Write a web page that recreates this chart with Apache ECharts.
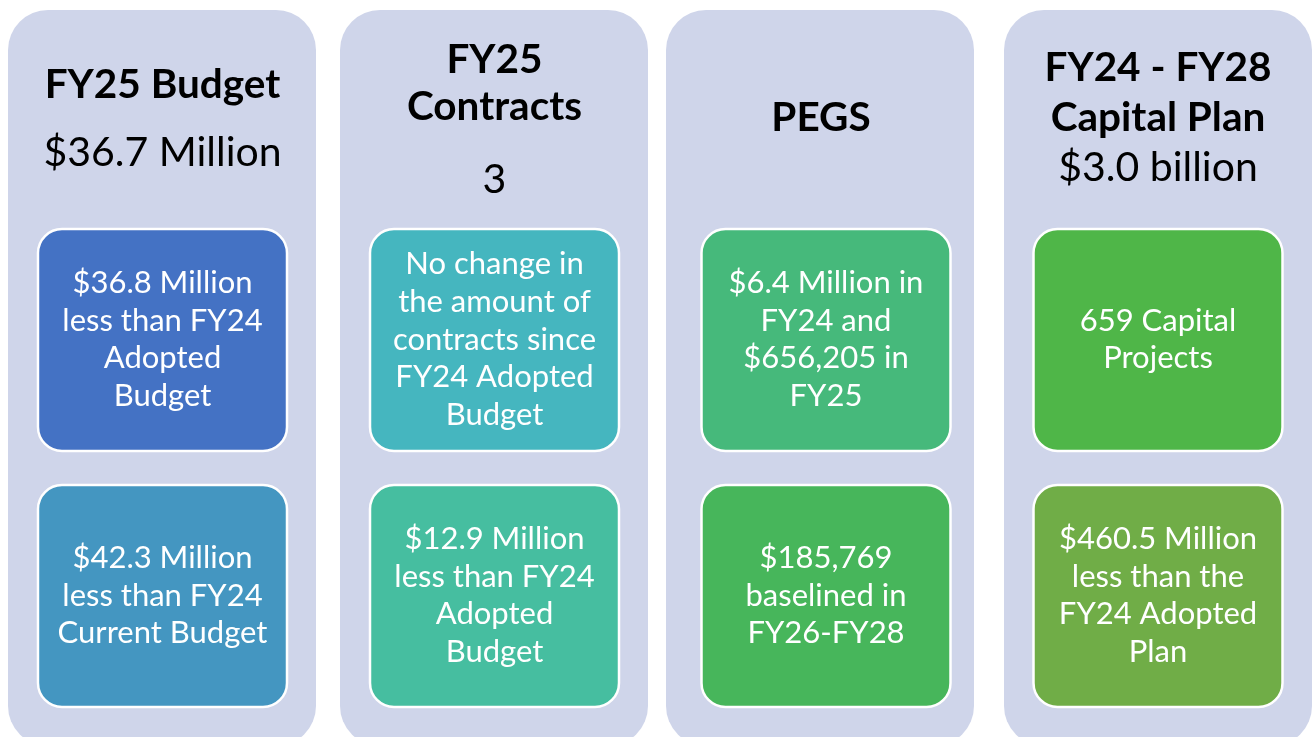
<!DOCTYPE html>
<html>
<head>
<meta charset="utf-8">
<script src="https://cdn.jsdelivr.net/npm/echarts@6/dist/echarts.min.js"></script>
<style>
html,body{margin:0;padding:0;background:#ffffff;}
#chart{width:1312px;height:737px;}
</style>
</head>
<body>
<div id="chart"></div>
<script>
// ---- data ----
const panelTitles = ['FY25 Budget', 'FY25\nContracts', 'PEGS', 'FY24 - FY28\nCapital Plan'];
const panelValues = ['$36.7 Million', '3', '', '$3.0 billion'];
const topBoxTexts = [
  '$36.8 Million\nless than FY24\nAdopted\nBudget',
  'No change in\nthe amount of\ncontracts since\nFY24 Adopted\nBudget',
  '$6.4 Million in\nFY24 and\n$656,205 in\nFY25',
  '659 Capital\nProjects'
];
const bottomBoxTexts = [
  '$42.3 Million\nless than FY24\nCurrent Budget',
  '$12.9 Million\nless than FY24\nAdopted\nBudget',
  '$185,769\nbaselined in\nFY26-FY28',
  '$460.5 Million\nless than the\nFY24 Adopted\nPlan'
];

// ---- styles / layout ----
const topBoxColors = ['#4472C4', '#45B6BF', '#46B97B', '#4FB648'];
const bottomBoxColors = ['#4496C1', '#46BEA0', '#47B65B', '#70AD47'];
const panelColor = '#CFD5EA';
const panelLeft = [8, 340, 666, 1004];
const panelWidth = 308;
const boxCenter = [162.5, 494.5, 826, 1158];
const boxWidth = 249;
const titleCenterY = [85, 83.5, 118, 93];
const titleLineH = [50, 47, 50, 50];
const valueY = [153, 180, 0, 168];
const FONT = 'Lato, "Open Sans", sans-serif';

const chart = echarts.init(document.getElementById('chart'), null, {renderer: 'canvas'});
const elements = [];
for (let i = 0; i < panelTitles.length; i++) {
  elements.push({
    type: 'rect',
    shape: {x: panelLeft[i], y: 10, width: panelWidth, height: 736, r: 40},
    style: {fill: panelColor}
  });
  elements.push({
    type: 'text',
    style: {
      text: panelTitles[i], x: boxCenter[i] - (i === 2 ? 5 : 0), y: titleCenterY[i],
      align: 'center', verticalAlign: 'middle',
      font: 'bold 40.5px ' + FONT, lineHeight: titleLineH[i], fill: '#000000'
    }
  });
  if (panelValues[i]) {
    elements.push({
      type: 'text',
      style: {
        text: panelValues[i], x: boxCenter[i], y: valueY[i],
        align: 'center', verticalAlign: 'middle',
        font: '41px ' + FONT, fill: '#000000'
      }
    });
  }
  const boxes = [[229, topBoxTexts[i], topBoxColors[i]], [485, bottomBoxTexts[i], bottomBoxColors[i]]];
  boxes.forEach(function (b) {
    elements.push({
      type: 'rect',
      shape: {x: boxCenter[i] - boxWidth / 2, y: b[0], width: boxWidth, height: 222, r: 24},
      style: {fill: b[2], stroke: '#ffffff', lineWidth: 2.5}
    });
    elements.push({
      type: 'text',
      style: {
        text: b[1], x: boxCenter[i], y: b[0] + 110.5,
        align: 'center', verticalAlign: 'middle',
        font: '31px ' + FONT, lineHeight: 37.7, fill: '#ffffff'
      }
    });
  });
}

chart.setOption({
  backgroundColor: '#ffffff',
  animation: false,
  graphic: {elements: elements}
});
</script>
</body>
</html>
